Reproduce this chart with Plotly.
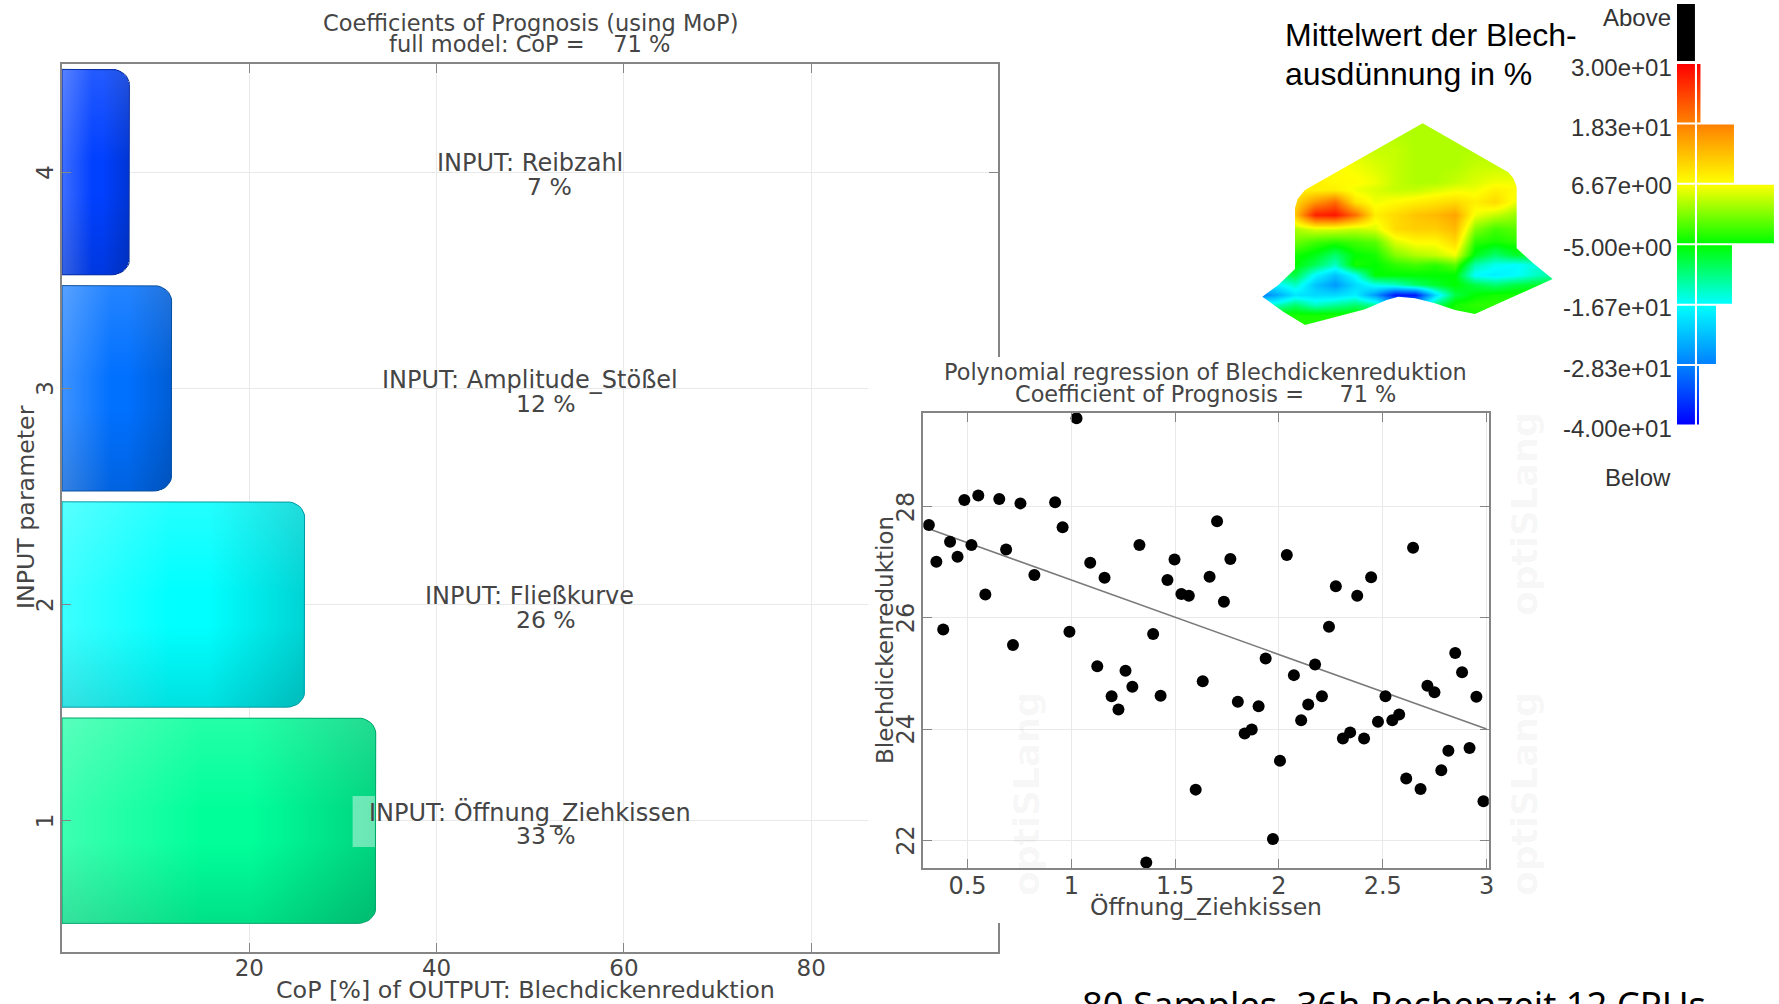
import numpy as np
import plotly.graph_objects as go

W, H = 1779, 1004
XS = 1.0028

# ---- CoP bars ----
BAR_PARAM = [1, 2, 3, 4]
BAR_VALUES = [33.5, 25.9, 11.7, 7.2]
BAR_COLORS = ["#00ff99", "#00ffff", "#0070ff", "#0040ff"]
BAR_EDGES = ["#00a56a", "#009aa5", "#0a50a0", "#0a30a0"]
BAR_LABELS = ["INPUT: Öffnung_Ziehkissen", "INPUT: Fließkurve", "INPUT: Amplitude_Stößel", "INPUT: Reibzahl"]
BAR_PERCENT = ["33 %", "26 %", "12 %", "7 %"]
LABEL_CX_2 = [546, 546, 546, 550]
BAR_TICK_TEXT = ["1\u00a0", "2\u00a0", "3\u00a0", "4\u00a0"]

# ---- regression scatter ----
SAMPLE_X = [0.314,0.35,0.383,0.416,0.452,0.485,0.519,0.552,0.586,0.653,0.686,0.719,0.755,0.822,0.922,0.958,0.991,1.025,
            1.091,1.125,1.16,1.194,1.227,1.261,1.294,1.328,1.361,1.394,1.43,1.463,1.497,1.53,1.566,1.599,1.633,1.666,
            1.702,1.735,1.766,1.802,1.835,1.869,1.902,1.936,1.971,2.005,2.038,2.072,2.107,2.141,2.174,2.207,2.241,
            2.274,2.308,2.343,2.377,2.41,2.444,2.477,2.513,2.546,2.579,2.613,2.646,2.682,2.715,2.749,2.782,2.816,
            2.849,2.882,2.918,2.951,2.985]
SAMPLE_Y = [27.67,27.01,25.79,27.37,27.10,28.12,27.31,28.20,26.42,28.14,27.23,25.51,28.06,26.77,28.08,27.63,25.75,29.59,
            26.99,25.13,26.72,24.59,24.35,25.05,24.76,27.31,21.60,25.71,24.60,26.68,27.05,26.43,26.40,22.91,24.86,26.74,
            27.74,26.29,27.06,24.49,23.92,23.99,24.41,25.27,22.02,23.43,27.13,24.97,24.16,24.44,25.16,24.59,25.84,
            26.57,23.83,23.94,26.40,23.83,26.73,24.13,24.59,24.16,24.26,23.11,27.26,22.92,24.78,24.66,23.26,23.61,
            25.37,25.02,23.66,24.58,22.70]
FIT_X = [0.316, 3.0]
FIT_Y = [27.6, 24.0]

# ---- legend histogram ----
LEVELS = [-40.0, -28.33, -16.67, -5.0, 6.67, 18.33, 30.0]
LEVEL_COLORS = ["#0000ff", "#0080ff", "#00ffff", "#00ff00", "#ffff00", "#ff8000", "#ff0000"]
HIST_COUNTS = [2, 19, 35, 77, 37, 3.5]
LEVEL_LABELS = ["-4.00e+01", "-2.83e+01", "-1.67e+01", "-5.00e+00", "6.67e+00", "1.83e+01", "3.00e+01"]
LEVEL_LABEL_PY = [428, 368, 308, 247, 185, 127, 68]

# ---- thinning field on the formed part ----
FIELD_X = [0, 60, 120, 180, 240, 300, 360, 420, 480, 540, 600, 660, 720, 780, 840, 900]
FIELD_Y = [0, 50, 100, 150, 200, 225, 260, 300, 340, 380, 420, 450, 480, 510, 540, 570, 600, 650]
FIELD_Z = [
    [3, 3, 3, 3, 3, 3, 3, 3, 3, 3, 3, 3, 3, 3, 3, 3],
    [3, 3, 3, 3, 3, 3, 3, 3, 3, 3, 3, 3, 3, 3, 3, 3],
    [5, 5, 5, 5, 5, 5, 4, 4, 3, 3, 3, 3, 3, 3, 3, 3],
    [7, 7, 7, 7, 7, 6, 5, 4, 3, 3, 3, 4, 4, 4, 4, 4],
    [8, 8, 8, 8, 7, 7, 6, 4, 3, 3, 4, 5, 6, 6, 5, 5],
    [8, 8, 8, 8, 8, 6, 5, 4, 4, 5, 6, 6, 8, 7, 6, 6],
    [10, 10, 10, 16, 20, 9, 6, 7, 8, 9, 10, 8, 10, 6, 6, 6],
    [12, 12, 12, 27, 28, 20, 8, 10, 12, 13, 15, 6, 4, 2, 2, 2],
    [3, 3, 3, 5, 5, 4, 5, 10, 11, 11, 13, 1, -2, -1, -1, -1],
    [0, 0, 0, -2, -3, -2, -1, 5, 7, 7, 10, -3, -4, -3, -3, -3],
    [-4, -4, -4, -6, -10, -5, -4, 1, 3, 4, 6, -6, -10, -7, -7, -7],
    [-5, -5, -5, -9, -14, -4, -5, -3, -2, -3, -1, -13, -16, -17, -15, -15],
    [-10, -10, -8, -17, -22, -16, -5, -5, -5, -5, -5, -17, -18, -17, -14, -12],
    [-20, -18, -14, -22, -26, -20, -16, -14, -10, -7, -5, -8, -10, -8, -7, -7],
    [-30, -25, -19, -20, -20, -18, -26, -38, -38, -20, -8, -5, -4, -4, -4, -4],
    [-14, -14, -10, -14, -12, -10, -12, -24, -24, -10, -4, -3, -3, -3, -3, -3],
    [-4, -4, -4, -4, -4, -4, -4, -4, -4, -4, -4, -4, -4, -4, -4, -4],
    [-3, -3, -3, -3, -3, -3, -3, -3, -3, -3, -3, -3, -3, -3, -3, -3],
]
OUTLINE = [(503,25),(760,172),(775,190),(785,215),(785,400),(835,445),(893,492),(660,597),(600,585),(540,565),
           (480,550),(430,545),(395,555),(360,570),(330,583),(150,630),(85,590),(22,545),(70,510),(120,462),
           (120,280),(128,252),(150,225)]

TXT = "#454545"
FRAME = "#858585"
GRID = "#e9e9e9"
DV = "DejaVu Sans"
LS = "Liberation Sans"


def dom_x(a, b):
    return [a * XS / W, min(1.0, b * XS / W)]


def dom_y(top, bottom):
    return [1 - bottom / H, 1 - top / H]


def note(px, py, text, size=24, color=TXT, family=DV, anchor="center", angle=0):
    return dict(x=px * XS / W, y=1 - py / H, xref="paper", yref="paper", text=text, showarrow=False,
                xanchor=anchor, yanchor="middle", textangle=angle,
                font=dict(size=size, color=color, family=family))


def rounded(v, yc, half=0.475, rx=1.9, ry=0.07):
    t = np.linspace(0, np.pi / 2, 9)
    xs = [0, *(v - rx + rx * np.sin(t)), *(v - rx + rx * np.cos(t)), 0, 0]
    ys = [yc + half, *(yc + half - ry + ry * np.cos(t)), *(yc - half + ry - ry * np.sin(t)), yc - half, yc + half]
    return xs, ys


fig = go.Figure()

# main bars
fig.add_trace(go.Bar(y=BAR_PARAM, x=BAR_VALUES, orientation="h", width=0.95,
                     marker=dict(color=BAR_COLORS, cornerradius=17, line=dict(width=0)),
                     xaxis="x", yaxis="y", hoverinfo="skip"))
for v, yc, edge in zip(BAR_VALUES, BAR_PARAM, BAR_EDGES):
    xs, ys = rounded(v, yc)
    fig.add_trace(go.Scatter(x=xs, y=ys, mode="lines", fill="toself", line=dict(width=0), xaxis="x", yaxis="y",
                             hoverinfo="skip",
                             fillgradient=dict(type="horizontal", colorscale=[
                                 [0, "rgba(255,255,255,0.24)"], [0.45, "rgba(255,255,255,0)"],
                                 [0.6, "rgba(0,0,0,0)"], [1, "rgba(0,0,0,0.17)"]])))
    fig.add_trace(go.Scatter(x=xs, y=ys, mode="lines", fill="toself", line=dict(color=edge, width=1), xaxis="x",
                             yaxis="y", hoverinfo="skip",
                             fillgradient=dict(type="vertical", colorscale=[
                                 [0, "rgba(0,0,0,0.12)"], [0.4, "rgba(0,0,0,0)"],
                                 [0.55, "rgba(255,255,255,0)"], [1, "rgba(255,255,255,0.14)"]])))

# white sheet that the regression plot sits on
fig.add_trace(go.Scatter(x=[0, 1, 1, 0, 0], y=[0, 0, 1, 1, 0], mode="lines", fill="toself", fillcolor="white",
                         line=dict(width=0), xaxis="x2", yaxis="y2", hoverinfo="skip"))

# regression plot
fig.add_trace(go.Scatter(x=FIT_X, y=FIT_Y, mode="lines", line=dict(color="#7a7a7a", width=1.6),
                         xaxis="x3", yaxis="y3", hoverinfo="skip"))
fig.add_trace(go.Scatter(x=SAMPLE_X, y=SAMPLE_Y, mode="markers", marker=dict(color="black", size=12),
                         xaxis="x3", yaxis="y3"))

# formed part
fig.add_trace(go.Heatmap(x=FIELD_X, y=FIELD_Y, z=FIELD_Z, zmin=-40, zmax=30, zsmooth="best", showscale=False,
                         colorscale=[[(l + 40) / 70, c] for l, c in zip(LEVELS, LEVEL_COLORS)],
                         xaxis="x4", yaxis="y4", hoverinfo="skip"))

# legend strip and histogram
STEP_INSET = 0.2
fig.add_trace(go.Scatter(x=[0, 1, 1, 0, 0], y=[30.4, 30.4, 41.4, 41.4, 30.4], mode="lines", fill="toself",
                         fillcolor="black", line=dict(width=0), xaxis="x5", yaxis="y5", hoverinfo="skip"))
for i, cnt in enumerate(HIST_COUNTS):
    lo, hi = LEVELS[i] + STEP_INSET, LEVELS[i + 1] - STEP_INSET
    grad = dict(type="vertical", colorscale=[[0, LEVEL_COLORS[i]], [1, LEVEL_COLORS[i + 1]]])
    fig.add_trace(go.Scatter(x=[0, 1, 1, 0, 0], y=[lo, lo, hi, hi, lo], mode="lines", fill="toself",
                             fillgradient=grad, line=dict(width=0), xaxis="x5", yaxis="y5", hoverinfo="skip"))
    fig.add_trace(go.Scatter(x=[0, cnt, cnt, 0, 0], y=[lo, lo, hi, hi, lo], mode="lines", fill="toself",
                             fillgradient=grad, line=dict(width=0), xaxis="x6", yaxis="y6", hoverinfo="skip"))

hidden = dict(visible=False, fixedrange=True)


def axis_style(size, standoff):
    return dict(showline=True, linecolor=FRAME, linewidth=2, mirror="ticks", ticks="inside", ticklen=9,
                tickcolor=FRAME, tickwidth=1, showgrid=True, gridcolor=GRID, gridwidth=1, zeroline=False,
                tickfont=dict(size=size, color=TXT, family=DV), ticklabelstandoff=standoff)


outline_path = "M -60 -60 L 960 -60 L 960 710 L -60 710 Z M " + " L ".join(f"{x} {y}" for x, y in OUTLINE) + " Z"

fig.update_layout(
    width=W, height=H, autosize=False, margin=dict(l=0, r=0, t=0, b=0), showlegend=False,
    paper_bgcolor="white", plot_bgcolor="white", bargap=0,
    xaxis=dict(domain=dom_x(62, 998.5), range=[0, 100], tickvals=[20, 40, 60, 80], **axis_style(23, -5)),
    yaxis=dict(domain=dom_y(64, 951.5), range=[0.395, 4.5], tickvals=BAR_PARAM, ticktext=BAR_TICK_TEXT,
               tickangle=-90, **axis_style(23, -2)),
    xaxis2=dict(domain=dom_x(868, 1510), range=[0, 1], anchor="y2", **hidden),
    yaxis2=dict(domain=dom_y(357, 923), range=[0, 1], anchor="x2", **hidden),
    xaxis3=dict(domain=dom_x(923.3, 1488.8), range=[0.287, 3.0106], tickvals=[0.5, 1, 1.5, 2, 2.5, 3],
                ticktext=["0.5", "1", "1.5", "2", "2.5", "3"], anchor="y3", **axis_style(24, -5)),
    yaxis3=dict(domain=dom_y(413, 868), range=[21.5, 29.686], tickvals=[22, 24, 26, 28],
                ticktext=["22\u00a0", "24\u00a0", "26\u00a0", "28\u00a0"], tickangle=-90,
                anchor="x3", **axis_style(24, -2)),
    xaxis4=dict(domain=dom_x(1241.67, 1568.33), range=[-40, 940], anchor="y4", **hidden),
    yaxis4=dict(domain=dom_y(101.67, 345), range=[690, -40], anchor="x4", **hidden),
    xaxis5=dict(domain=dom_x(1677, 1695), range=[0, 1], anchor="y5", **hidden),
    yaxis5=dict(domain=dom_y(4, 425.5), range=[-40, 41.4], anchor="x5", **hidden),
    xaxis6=dict(domain=dom_x(1697, 1774), range=[0, 77], anchor="y6", **hidden),
    yaxis6=dict(domain=dom_y(4, 425.5), range=[-40, 41.4], anchor="x6", **hidden),
    shapes=[
        dict(type="path", path=outline_path, xref="x4", yref="y4", fillcolor="white", line=dict(width=0),
             fillrule="evenodd", layer="above"),
        dict(type="rect", xref="paper", yref="paper", x0=353.6 / W, x1=376 / W, y0=1 - 847 / H, y1=1 - 796 / H,
             fillcolor="rgba(255,255,255,0.42)", line=dict(width=0), layer="above"),
    ],
)

ann = [
    note(531, 23, "Coefficients of Prognosis (using MoP)", size=22.5),
    note(530, 44, "full model: CoP =\u00a0\u00a0\u00a0\u00a071 %", size=22.5),
    note(526, 990, "CoP [%] of OUTPUT: Blechdickenreduktion", size=23.8),
    note(26, 507, "INPUT parameter", size=23.7, angle=-90),
    note(1206, 372, "Polynomial regression of Blechdickenreduktion", size=22.4),
    note(1206, 394, "Coefficient of Prognosis =\u00a0\u00a0\u00a0\u00a0\u00a071 %", size=22.4),
    note(1206, 907, "Öffnung_Ziehkissen", size=23.5),
    note(885, 640, "Blechdickenreduktion", size=23, angle=-90),
    note(1283, 35, "Mittelwert der Blech-", size=32, color="black", family=LS, anchor="left"),
    note(1283, 74, "ausdünnung in %", size=32, color="black", family=LS, anchor="left"),
    note(1080, 1004, "80 Samples, 36h Rechenzeit 12 CPUs", size=36.4, color="black", family="Noto Sans", anchor="left"),
    note(1673, 18, "Above", size=24, color="#333333", family=LS, anchor="right"),
    note(1673, 477, "Below", size=24, color="#333333", family=LS, anchor="right"),
]
BAR_CENTERS_PY = [820, 604, 388, 171]
for lab, pct, cy, cx2 in zip(BAR_LABELS, BAR_PERCENT, BAR_CENTERS_PY, LABEL_CX_2):
    ann.append(note(530, cy - 8, lab))
    ann.append(note(cx2, cy + 16, pct, size=23.5))
for lab, py in zip(LEVEL_LABELS, LEVEL_LABEL_PY):
    ann.append(note(1674, py, lab, size=24, color="#333333", family=LS, anchor="right"))
for cx, cy in [(1026, 793), (1524, 513), (1524, 793)]:
    ann.append(note(cx, cy, "<b>optiSLang</b>", size=36, color="rgba(0,0,0,0.045)", family=DV, angle=-90))
fig.update_layout(annotations=ann)

fig.write_html("out.html", config=dict(displayModeBar=False),
               post_script="document.body.style.margin='0';document.body.style.overflow='hidden';")
